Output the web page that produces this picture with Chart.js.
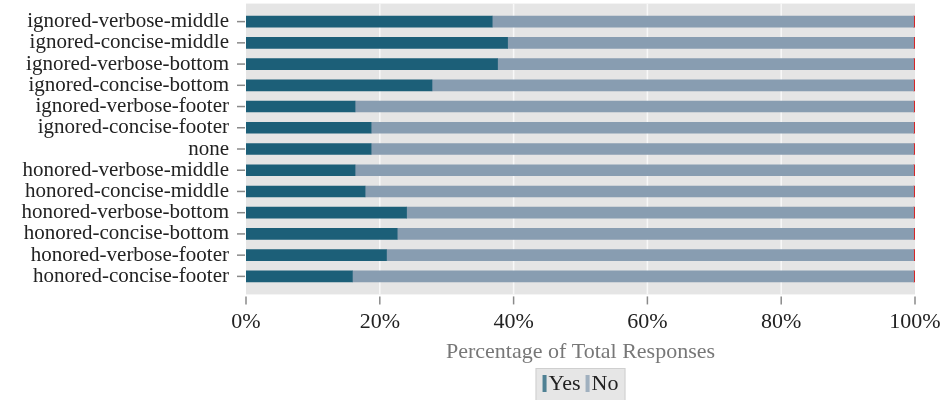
<!DOCTYPE html>
<html>
<head>
<meta charset="utf-8">
<script src="https://cdn.jsdelivr.net/npm/chart.js@4.4.1/dist/chart.umd.min.js"></script>
<style>
  html, body { margin: 0; padding: 0; background: #fff; }
  #wrap { width: 942px; height: 400px; }
</style>
</head>
<body>
<div id="wrap"><canvas id="chart"></canvas></div>
<script>
const categories = [
  'ignored-verbose-middle', 'ignored-concise-middle', 'ignored-verbose-bottom',
  'ignored-concise-bottom', 'ignored-verbose-footer', 'ignored-concise-footer',
  'none', 'honored-verbose-middle', 'honored-concise-middle',
  'honored-verbose-bottom', 'honored-concise-bottom', 'honored-verbose-footer',
  'honored-concise-footer'
];
const yesValues = [36.8, 39.1, 37.6, 27.8, 16.3, 18.7, 18.7, 16.3, 17.8, 24.0, 22.6, 21.0, 15.9];
const noValues = [63.0, 60.7, 62.2, 72.0, 83.5, 81.1, 81.1, 83.5, 82.0, 75.8, 77.2, 78.8, 83.9];
const otherValues = [0.2, 0.2, 0.2, 0.2, 0.2, 0.2, 0.2, 0.2, 0.2, 0.2, 0.2, 0.2, 0.2];
const xTicks = [0, 20, 40, 60, 80, 100];

const serif = '"Liberation Serif", "DejaVu Serif", serif';

// grey panel, white grid lines, detached tick marks and the boxed legend
const frame = {
  id: 'frame',
  beforeDatasetsDraw(chart) {
    const { ctx, chartArea: a, scales: { x, y } } = chart;
    const band = (a.bottom - a.top) / categories.length;
    const ext = band * 0.35;
    const top = a.top - ext, bottom = a.bottom + ext;
    ctx.save();
    ctx.fillStyle = '#e5e5e5';
    ctx.fillRect(a.left, top, a.right - a.left, bottom - top);

    ctx.strokeStyle = '#f8f8f8';
    ctx.lineWidth = 1.5;
    xTicks.forEach(v => {
      if (v === 0 || v === 100) return;
      const px = x.getPixelForValue(v);
      ctx.beginPath(); ctx.moveTo(px, top); ctx.lineTo(px, bottom); ctx.stroke();
    });

    ctx.strokeStyle = '#8a8a8a';
    xTicks.forEach(v => {
      const px = x.getPixelForValue(v);
      ctx.beginPath(); ctx.moveTo(px, bottom + 2); ctx.lineTo(px, bottom + 10); ctx.stroke();
    });
    categories.forEach((c, i) => {
      const py = y.getPixelForValue(i);
      ctx.beginPath(); ctx.moveTo(a.left - 9, py); ctx.lineTo(a.left - 1, py); ctx.stroke();
    });
    ctx.restore();
  },
  afterDraw(chart) {
    const { ctx, chartArea: a } = chart;
    const items = chart.data.datasets.filter(d => d.label);
    ctx.save();
    ctx.font = '22px ' + serif;
    const sw = 4, gap = 2, between = 5, pad = 7;
    let total = 0;
    items.forEach((d, i) => {
      total += sw + gap + ctx.measureText(d.label).width + (i < items.length - 1 ? between : 0);
    });
    const boxW = total + pad * 2;
    const cx = (a.left + a.right) / 2;
    const bx = cx - boxW / 2, by = 368;
    ctx.fillStyle = '#e6e6e6';
    ctx.fillRect(bx, by, boxW, 40);
    ctx.strokeStyle = '#cfcfcf';
    ctx.lineWidth = 1;
    ctx.strokeRect(bx + 0.5, by + 0.5, boxW - 1, 40);
    let px = bx + pad;
    const my = by + 15;
    ctx.textBaseline = 'middle';
    items.forEach(d => {
      ctx.globalAlpha = 0.75;
      ctx.fillStyle = d.backgroundColor;
      ctx.fillRect(px, my - 8, sw, 17);
      ctx.globalAlpha = 1;
      px += sw + gap;
      ctx.fillStyle = '#222';
      ctx.fillText(d.label, px, my + 1);
      px += ctx.measureText(d.label).width + between;
    });
    ctx.restore();
  }
};

new Chart(document.getElementById('chart'), {
  type: 'bar',
  data: {
    labels: categories,
    datasets: [
      { label: 'Yes', data: yesValues, backgroundColor: '#1c5f78', barThickness: 11 },
      { label: 'No', data: noValues, backgroundColor: '#889db1', barThickness: 11 },
      { label: '', data: otherValues, backgroundColor: '#d62728', barThickness: 11 }
    ]
  },
  options: {
    indexAxis: 'y',
    responsive: true,
    maintainAspectRatio: false,
    animation: false,
    layout: { padding: { top: 11, right: 27, bottom: 33, left: 0 } },
    plugins: {
      legend: { display: false },
      tooltip: { enabled: false }
    },
    scales: {
      x: {
        stacked: true,
        min: 0,
        max: 100,
        afterBuildTicks: s => { s.ticks = xTicks.map(v => ({ value: v })); },
        grid: { display: false, drawTicks: false },
        border: { display: false },
        ticks: {
          callback: v => v + '%',
          font: { family: serif, size: 22 },
          color: '#222',
          padding: 22,
          maxRotation: 0
        },
        title: {
          display: true,
          text: 'Percentage of Total Responses',
          color: '#777',
          font: { family: serif, size: 22 },
          padding: { top: 0, bottom: 2 }
        },
        afterFit: s => { s.height = 80; s.paddingLeft = 0; s.paddingRight = 0; }
      },
      y: {
        stacked: true,
        offset: true,
        grid: { display: false, drawTicks: false },
        border: { display: false },
        ticks: {
          font: { family: serif, size: 21 },
          color: '#222',
          padding: 17,
          autoSkip: false
        },
        afterFit: s => { s.width = 246; s.paddingTop = 0; s.paddingBottom = 0; }
      }
    }
  },
  plugins: [frame]
});
</script>
</body>
</html>
